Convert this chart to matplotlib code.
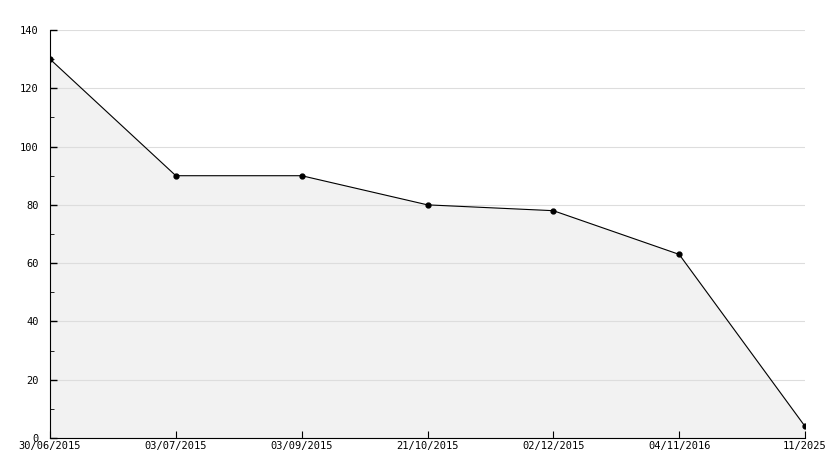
import matplotlib.pyplot as plt
import numpy as np

labels = ['30/06/2015', '03/07/2015', '03/09/2015', '21/10/2015', '02/12/2015', '04/11/2016', '11/2025']
values = [130, 90, 90, 80, 78, 63, 4]

plt.rcParams['font.family'] = 'DejaVu Sans Mono'
fig = plt.figure(figsize=(8.34, 4.68), dpi=100)
ax = fig.add_axes([50 / 834, 30 / 468, 755 / 834, 408 / 468])
x = np.arange(len(values))
ax.fill_between(x, values, 0, color='#f2f2f2', zorder=0.4)
ax.plot(x, values, color='black', lw=0.8, marker='o', ms=3.5, zorder=3)
ax.set_xlim(0, len(values) - 1)
ax.set_ylim(0, 140)
ax.set_xticks(x)
ax.set_xticklabels(labels, fontsize=7.5)
ax.set_yticks(range(0, 141, 20))
ax.set_yticks(range(10, 141, 20), minor=True)
ax.tick_params(axis='y', labelsize=7.5, direction='in', length=5, width=1, pad=8)
ax.tick_params(axis='y', which='minor', direction='in', length=3)
ax.tick_params(axis='x', direction='in', length=5, pad=2)
ax.grid(axis='y', color='#dddddd', lw=0.8)
ax.set_axisbelow('line')
for s in ['top', 'right']:
    ax.spines[s].set_visible(False)
fig.savefig('out.png')
